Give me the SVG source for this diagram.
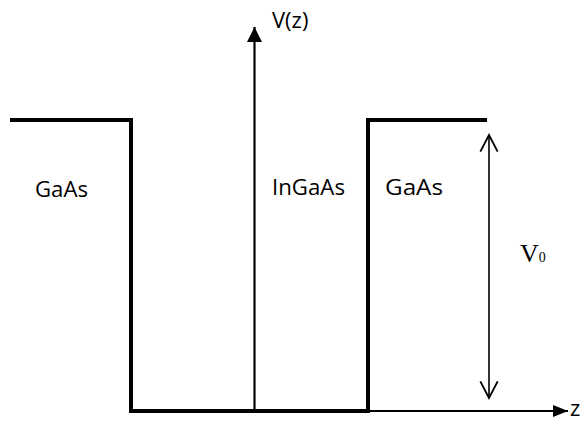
<svg xmlns="http://www.w3.org/2000/svg" width="583" height="421" viewBox="0 0 583 421">
<style>
.well{fill:none;stroke:#000;stroke-width:4;stroke-linejoin:miter}
.ax{stroke:#000;stroke-width:2.2;fill:none}
.lbl{font-family:"Open Sans","Liberation Sans",sans-serif;font-size:22px;fill:#000}
.ser{font-family:"Liberation Serif","Times New Roman",serif;fill:#000}
</style>
<defs>
<marker id="va" viewBox="0 0 10 10" refX="10" refY="5" markerWidth="15" markerHeight="15" markerUnits="userSpaceOnUse" orient="auto">
<path d="M0,0 L10,5 L0,10 z" fill="#000"/>
</marker>
<marker id="za" viewBox="0 0 15 12" refX="15" refY="6" markerWidth="15" markerHeight="12" markerUnits="userSpaceOnUse" orient="auto">
<path d="M0,0 L15,6 L0,12 z" fill="#000"/>
</marker>
<marker id="oa" viewBox="0 0 12 12" refX="11" refY="6" markerWidth="20" markerHeight="20" markerUnits="userSpaceOnUse" orient="auto">
<path d="M1,0.8 L11,6 L1,11.2" fill="none" stroke="#000" stroke-width="1.1"/>
</marker>
</defs>
<g id="well">
<polyline class="well" points="10,120 131,120 131,411 368,411 368,120 487,120"/>
</g>
<g id="connectors">
<line class="ax" x1="368" y1="411" x2="568" y2="411" marker-end="url(#za)"/>
<line class="ax" x1="254.5" y1="411" x2="254.5" y2="27" marker-end="url(#va)"/>
<line x1="489" y1="260" x2="489" y2="135" stroke="#000" stroke-width="1.6" marker-end="url(#oa)"/>
<line x1="489" y1="260" x2="489" y2="398" stroke="#000" stroke-width="1.6" marker-end="url(#oa)"/>
</g>
<g id="labels">
<text class="lbl" x="272" y="28" font-size="22">V(z)</text>
<text class="lbl" x="570" y="416" font-size="21">z</text>
<text class="lbl" x="35" y="197" textLength="53" lengthAdjust="spacingAndGlyphs">GaAs</text>
<text class="lbl" x="272" y="195" textLength="73" lengthAdjust="spacingAndGlyphs">InGaAs</text>
<text class="lbl" x="385" y="195" textLength="58" lengthAdjust="spacingAndGlyphs">GaAs</text>
<text class="ser" x="520" y="262" font-size="26">V<tspan font-size="14">0</tspan></text>
</g>
</svg>
